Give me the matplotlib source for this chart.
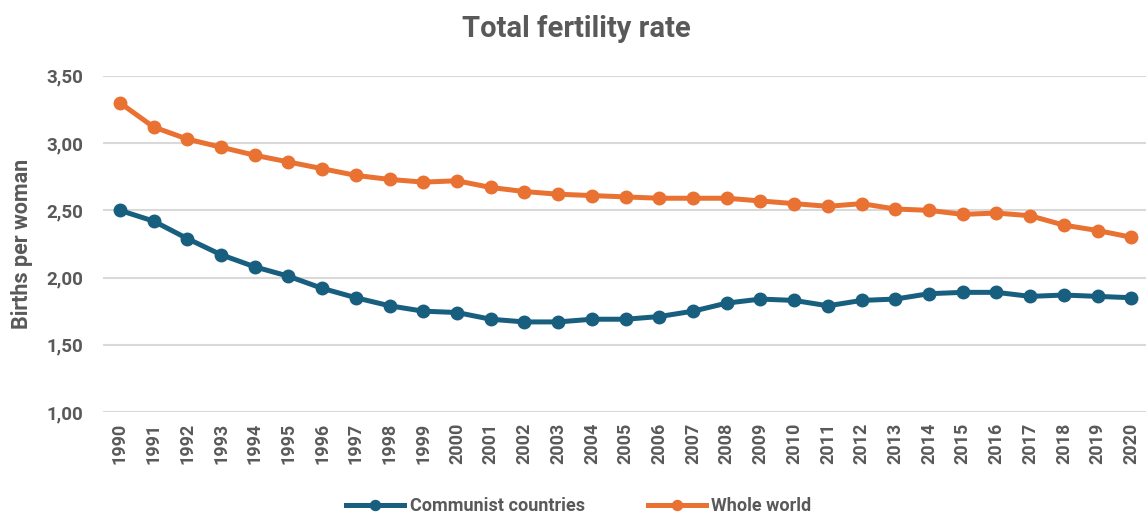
import matplotlib.pyplot as plt
import numpy as np

years = list(range(1990, 2021))
communist = [2.50, 2.42, 2.29, 2.17, 2.08, 2.01, 1.92, 1.85, 1.79, 1.75,
             1.74, 1.69, 1.67, 1.67, 1.69, 1.69, 1.71, 1.75, 1.81, 1.84,
             1.83, 1.79, 1.83, 1.84, 1.88, 1.89, 1.89, 1.86, 1.87, 1.86, 1.85]
world = [3.30, 3.12, 3.03, 2.97, 2.91, 2.86, 2.81, 2.76, 2.73, 2.71,
         2.72, 2.67, 2.64, 2.62, 2.61, 2.60, 2.59, 2.59, 2.59, 2.57,
         2.55, 2.53, 2.55, 2.51, 2.50, 2.47, 2.48, 2.46, 2.39, 2.35, 2.30]

BLUE = '#185e7f'
ORANGE = '#e97132'
GREY = '#595959'

plt.rcParams['font.family'] = ['Roboto', 'DejaVu Sans']

fig = plt.figure(figsize=(11.46, 5.2), dpi=100)
ax = fig.add_axes([0.0899, 0.2077, 0.912, 0.6463])

ax.plot(years, communist, color=BLUE, lw=3.6, marker='o', ms=9,
        label='Communist countries', zorder=3)
ax.plot(years, world, color=ORANGE, lw=3.6, marker='o', ms=9,
        label='Whole world', zorder=3)

ax.set_xlim(1989.5, 2020.5)
ax.set_ylim(1.0, 3.5)
ax.set_yticks(np.arange(1.0, 3.51, 0.5))
ax.set_yticklabels([f'{v:.2f}'.replace('.', ',') for v in np.arange(1.0, 3.51, 0.5)],
                   fontsize=13.5, fontweight='bold', color=GREY)
ax.set_xticks(years)
ax.set_xticklabels([str(y) for y in years], rotation=90, fontsize=13,
                   fontweight='bold', color=GREY)
ax.tick_params(axis='x', length=0, pad=8)
ax.tick_params(axis='y', length=0, pad=14)
ax.grid(axis='y', color='#d9d9d9', lw=1.5)
ax.set_axisbelow(True)
for s in ax.spines.values():
    s.set_visible(False)

ax.set_ylabel('Births per woman', fontsize=15.5, fontweight='bold', color=GREY,
              labelpad=10)
fig.suptitle('Total fertility rate', x=0.503, y=0.972, fontsize=21,
             fontweight='bold', color=GREY)

fig.legend(loc='center', bbox_to_anchor=(0.505, 0.026), ncol=2, frameon=False,
           prop={'size': 13, 'weight': 'bold'}, labelcolor=GREY,
           handlelength=3.2, columnspacing=3.5, handletextpad=0.3, markerscale=0.8)

fig.savefig('out.png', dpi=100)
